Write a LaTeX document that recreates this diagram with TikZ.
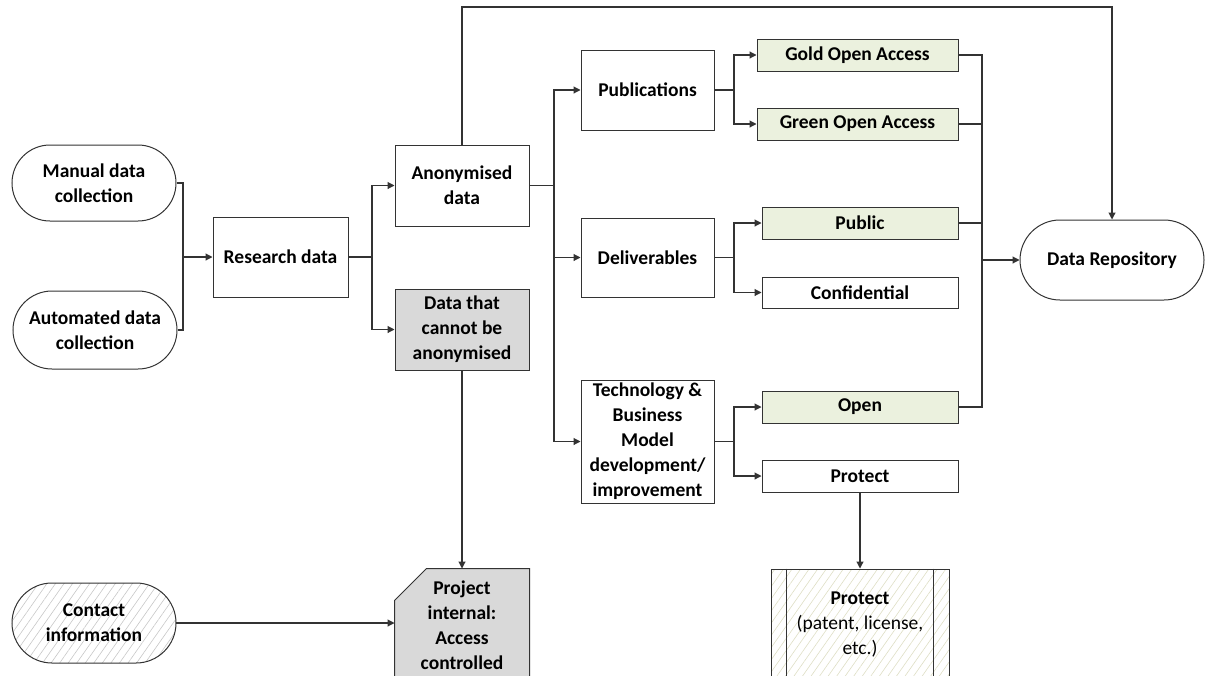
\documentclass[tikz,border=0pt]{standalone}
\usepackage{fontspec}
\setmainfont{Carlito}
\usetikzlibrary{arrows.meta,shapes.misc,patterns.meta,backgrounds}

\definecolor{boxgreen}{HTML}{EBF1DE}
\definecolor{boxgrey}{HTML}{D9D9D9}
\definecolor{linegrey}{HTML}{333333}
\definecolor{hatchyellow}{RGB}{222,222,196}

\tikzset{
    box/.style={draw=linegrey, line width=1pt, align=center, inner sep=2pt,
        font=\fontsize{19.5}{25}\selectfont\bfseries},
    term/.style={box, rounded rectangle},
    greenbox/.style={box, fill=boxgreen},
    greybox/.style={box, fill=boxgrey},
    hatch/.style={pattern={Lines[angle=55, distance=7pt, line width=0.6pt]},
        pattern color=#1},
    arr/.style={draw=linegrey, line width=1.1pt, -{Triangle[length=7pt, width=7pt]}},
    ln/.style={draw=linegrey, line width=1.1pt},
}

\begin{document}
\begin{tikzpicture}[x=1pt, y=-1pt]
    \useasboundingbox (0, 0) rectangle (1206, 675);
    \clip (0, 0) rectangle (1206, 675);

    \node [term, minimum width=168, minimum height=76] (manual) at (94, 183) {Manual data\\collection};
    \node [term, minimum width=168, minimum height=78] (auto) at (95, 330) {Automated data\\collection};
    \node [box, minimum width=135, minimum height=80] (research) at (280.5, 257) {Research data};
    \node [box, minimum width=134, minimum height=81] (anon) at (462, 185.5) {Anonymised\\data};
    \node [greybox, minimum width=134, minimum height=81] (cannot) at (462, 329.5) {Data that\\cannot be\\anonymised};

    \node [box, minimum width=133, minimum height=80] (pub) at (647.5, 90) {Publications};
    \node [box, minimum width=133, minimum height=79] (deliv) at (647.5, 257.5) {Deliverables};
    \node [box, minimum width=133, minimum height=123] (tech) at (647.5, 441.5) {Technology \&\\Business\\Model\\development/\\improvement};

    \node [greenbox, minimum width=201, minimum height=32] (gold) at (857.5, 55) {Gold Open Access};
    \node [greenbox, minimum width=201, minimum height=32] (green) at (857.5, 124) {Green Open Access};
    \node [greenbox, minimum width=196, minimum height=32] (public) at (860, 223) {Public};
    \node [box, minimum width=196, minimum height=31] (conf) at (860, 292.5) {Confidential};
    \node [greenbox, minimum width=196, minimum height=32] (open) at (860, 407) {Open};
    \node [box, minimum width=196, minimum height=32] (protect) at (860, 476) {Protect};

    \node [term, minimum width=188, minimum height=80] (repo) at (1112, 260) {Data Repository};

    \node [term, hatch=black!22, minimum width=168, minimum height=80] (contact) at (94, 623) {Contact\\information};
    \node [box, draw=none, minimum width=134, minimum height=112] (project) at (462, 625) {Project\\internal:\\Access\\controlled};
    \begin{scope}[on background layer]
        \filldraw [draw=linegrey, fill=boxgrey, line width=1pt]
            ([xshift=32pt]project.north west) -- (project.north east) -- (project.south east)
            -- (project.south west) -- ([yshift=-32pt]project.north west) -- cycle;
    \end{scope}
    \node [box, hatch=hatchyellow, minimum width=178, minimum height=112,
        font=\fontsize{19.5}{25}\selectfont] (patent) at (860, 625) {\textbf{Protect}\\(patent, license,\\etc.)};
    \draw [ln] ([xshift=16pt]patent.north west) -- ([xshift=16pt]patent.south west);
    \draw [ln] ([xshift=-16pt]patent.north east) -- ([xshift=-16pt]patent.south east);

    % collection -> research data
    \coordinate (j1) at (183, 257);
    \draw [ln] (manual.east) -| (j1);
    \draw [ln] (auto.east) -| (j1);
    \draw [arr] (j1) -- (research.west);

    % research data -> anonymised / not
    \coordinate (j2) at (372, 257);
    \draw [ln] (research.east) -- (j2);
    \draw [arr] (j2) |- (anon.west);
    \draw [arr] (j2) |- (cannot.west);

    % anonymised -> outputs
    \coordinate (j3) at (554, 185.5);
    \draw [ln] (anon.east) -- (j3);
    \draw [arr] (j3) |- (pub.west);
    \draw [arr] (j3) |- (deliv.west);
    \draw [arr] (j3) |- (tech.west);

    \coordinate (j4) at (734, 90);
    \draw [ln] (pub.east) -- (j4);
    \draw [arr] (j4) |- (gold.west);
    \draw [arr] (j4) |- (green.west);

    \coordinate (j5) at (734, 257.5);
    \draw [ln] (deliv.east) -- (j5);
    \draw [arr] (j5) |- (public.west);
    \draw [arr] (j5) |- (conf.west);

    \coordinate (j6) at (734, 441.5);
    \draw [ln] (tech.east) -- (j6);
    \draw [arr] (j6) |- (open.west);
    \draw [arr] (j6) |- (protect.west);

    % open outputs -> repository
    \coordinate (j7) at (982, 260);
    \draw [ln] (gold.east) -| (j7);
    \draw [ln] (green.east) -| (j7);
    \draw [ln] (public.east) -| (j7);
    \draw [ln] (open.east) -| (j7);
    \draw [arr] (j7) -- (repo.west);

    \coordinate (top) at (1112, 7);
    \draw [arr] (anon.north) |- (top) -- (repo.north);

    \draw [arr] (cannot.south) -- (project.north);
    \draw [arr] (contact.east) -- (project.west |- contact.east);
    \draw [arr] (protect.south) -- (patent.north);
\end{tikzpicture}
\end{document}
